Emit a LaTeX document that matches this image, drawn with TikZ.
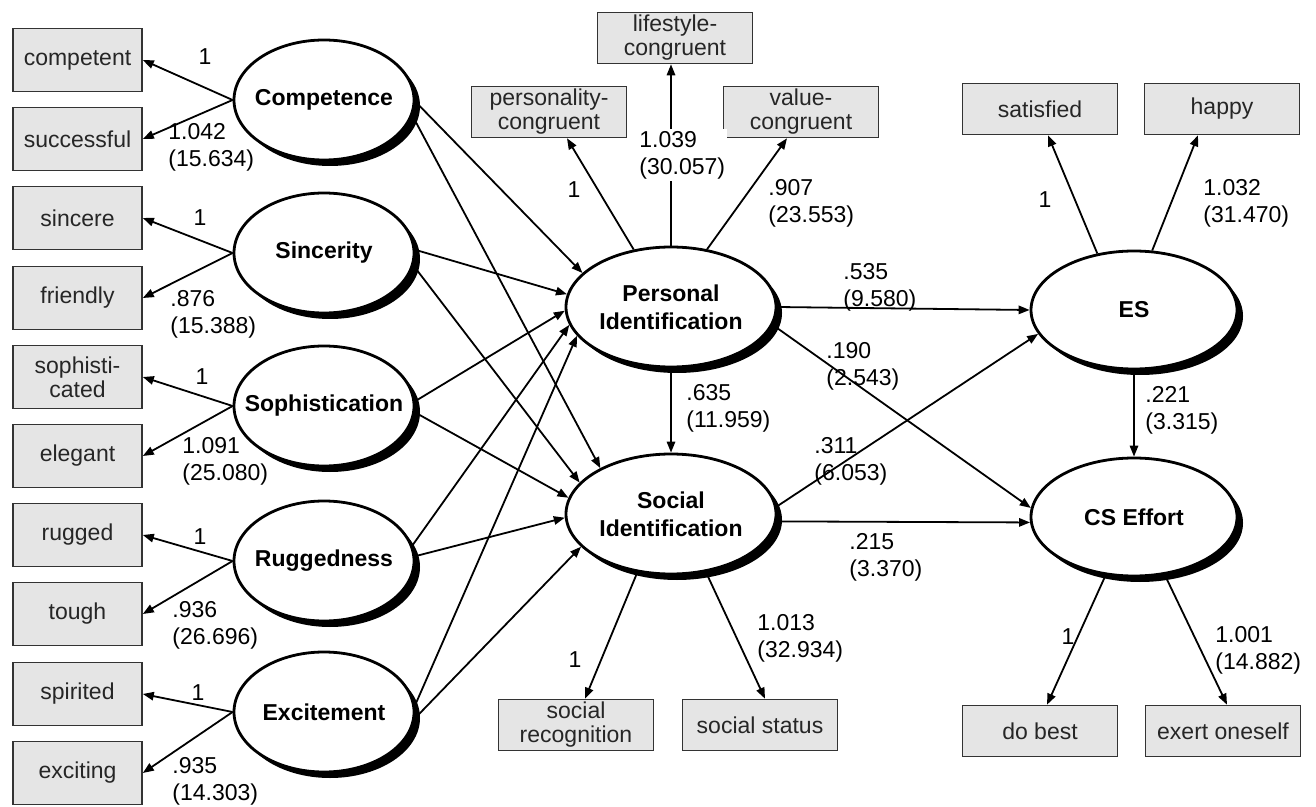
\documentclass[tikz,border=0pt]{standalone}
\usepackage{fontspec}
\setmainfont{Liberation Sans}
\usetikzlibrary{arrows.meta,shapes.geometric,shadows}

\tikzset{
  ind/.style={draw=black!80, line width=0.8pt, fill=black!10, text=black!85,
    font=\fontsize{11.5}{12}\selectfont, align=center, inner sep=0pt},
  lbox/.style={ind, minimum width=64.5pt, minimum height=31.5pt},
  wbox/.style={ind, minimum width=77.5pt, minimum height=25.5pt},
  latent/.style={ellipse, draw, line width=1.4pt, fill=white, inner sep=0pt,
    drop shadow={shadow xshift=3pt, shadow yshift=-3pt, fill=black, opacity=1}},
  smallvar/.style={latent, minimum width=90pt, minimum height=60pt},
  bigvar/.style={latent, minimum width=105pt, minimum height=60pt},
  outvar/.style={latent, minimum width=103pt, minimum height=59pt},
  lname/.style={font=\fontsize{11.5}{14}\selectfont\bfseries, align=center, inner sep=0pt},
  arr/.style={line width=0.9pt, -{Triangle[length=5.5pt,width=4.2pt]}},
  coef/.style={font=\fontsize{11.5}{13.5}\selectfont, align=left, inner sep=0pt, anchor=west},
  one/.style={font=\fontsize{11.5}{13.5}\selectfont, inner sep=0pt},
}

\begin{document}
\begin{tikzpicture}[x=0.5pt, y=-0.5pt]
\useasboundingbox (0,0) rectangle (1316,807);

% brand personality indicators
\node[lbox] (competent)  at (77.5,60)  {competent};
\node[lbox] (successful) at (77.5,139) {successful};
\node[lbox] (sincere)    at (77.5,218) {sincere};
\node[lbox] (friendly)   at (77.5,298) {friendly};
\node[lbox] (sophist)    at (77.5,377) {sophisti-\\cated};
\node[lbox] (elegant)    at (77.5,456) {elegant};
\node[lbox] (rugged)     at (77.5,535) {rugged};
\node[lbox] (tough)      at (77.5,614) {tough};
\node[lbox] (spirited)   at (77.5,694) {spirited};
\node[lbox] (exciting)   at (77.5,773) {exciting};

% brand personality factors
\node[smallvar, label={[lname]center:Competence}]     (comp) at (324,100) {};
\node[smallvar, label={[lname]center:Sincerity}]      (sinc) at (324,253) {};
\node[smallvar, label={[lname]center:Sophistication}] (soph) at (324,406) {};
\node[smallvar, label={[lname]center:Ruggedness}]     (rugg) at (324,561) {};
\node[smallvar, label={[lname]center:Excitement}]     (exci) at (324,712) {};

% identification
\node[bigvar, label={[lname]center:Personal\\Identification}] (pi) at (671,307) {};
\node[bigvar, label={[lname]center:Social\\Identification}]   (si) at (671,514) {};

% outcomes
\node[outvar, label={[lname]center:ES}]        (es) at (1134,310) {};
\node[outvar, label={[lname]center:CS Effort}] (cs) at (1134,517) {};

% identification indicators
\node[wbox] (pc) at (549,112) {personality-\\congruent};
\node[wbox] (lc) at (675,38)  {lifestyle-\\congruent};
\node[wbox] (vc) at (801,112) {value-\\congruent};
\node[wbox] (sr) at (576,725) {social\\recognition};
\node[wbox] (ss) at (760,725) {social status};

% outcome indicators
\node[wbox] (sat) at (1040,109) {satisfied};
\node[wbox] (hap) at (1222,109) {happy};
\node[wbox] (db)  at (1040,731) {do best};
\node[wbox] (eo)  at (1223,731) {exert oneself};

% factor loadings, left
\draw[arr] (comp.west) -- (competent.east);
\draw[arr] (comp.west) -- (successful.east);
\draw[arr] (sinc.west) -- (sincere.east);
\draw[arr] (sinc.west) -- (friendly.east);
\draw[arr] (soph.west) -- (sophist.east);
\draw[arr] (soph.west) -- (elegant.east);
\draw[arr] (rugg.west) -- (rugged.east);
\draw[arr] (rugg.west) -- (tough.east);
\draw[arr] (exci.west) -- (spirited.east);
\draw[arr] (exci.west) -- (exciting.east);

\node[one] (lcomp1) at (205,57) {1};
\node[coef] (lcomp2) at (168,147) {1.042\\(15.634)};
\node[one] (lsinc1) at (200,218) {1};
\node[coef] (lsinc2) at (170,314) {.876\\(15.388)};
\node[one] (lsoph1) at (202,377) {1};
\node[coef] (lsoph2) at (182,461) {1.091\\(25.080)};
\node[one] (lrugg1) at (200,537) {1};
\node[coef] (lrugg2) at (172,625) {.936\\(26.696)};
\node[one] (lexci1) at (198,693) {1};
\node[coef] (lexci2) at (172,781) {.935\\(14.303)};

% personality factors to identification
\draw[arr] (comp.-1)  -- (pi.159);
\draw[arr] (comp.-10) -- (si.147);
\draw[arr] (sinc.2)   -- (pi.173);
\draw[arr] (sinc.-8)  -- (si.161);
\draw[arr] (soph.3)   -- (pi.182);
\draw[arr] (soph.-4)  -- (si.171);
\draw[arr] (rugg.10)  -- (pi.190);
\draw[arr] (rugg.3)   -- (si.182);
\draw[arr] (exci.4)   -- (pi.197);
\draw[arr] (exci.-4)  -- (si.200);

% personal identification loadings
\draw[arr] (pi.123) -- ([xshift=9pt]pc.south);
\draw[arr] (pi.north) -- (pi.north |- lc.south);
\draw[arr] (pi.58) -- ([xshift=-7pt]vc.south);
\node[one] (lpi1) at (574,190) {1};
\node[coef, fill=white, inner sep=1pt] (lpi2) at (637,155) {1.039\\(30.057)};
\node[coef] (lpi3) at (768,203) {.907\\(23.553)};

% social identification loadings
\draw[arr] (si.240) -- ([xshift=4.5pt]sr.north);
\draw[arr] (si.301) -- ([xshift=2.5pt]ss.north);
\node[one] (lsi1) at (575,660) {1};
\node[coef] (lsi2) at (757,638) {1.013\\(32.934)};

% structural paths
\draw[arr] (pi.south) -- (si.north);
\node[coef] (lpisi) at (686,408) {.635\\(11.959)};
\draw[arr] (pi.east) -- (es.west);
\node[coef] (lpies) at (843,287) {.535\\(9.580)};
\draw[arr] (pi.-10) -- (cs.175);
\node[coef] (lpics) at (826,366) {.190\\(2.543)};
\draw[arr] (si.4) -- (es.194);
\node[coef] (lsies) at (814,461) {.311\\(6.053)};
\draw[arr] (si.-4) -- (cs.183);
\node[coef] (lsics) at (849,557) {.215\\(3.370)};
\draw[arr] (es.south) -- (cs.north);
\node[coef] (lescs) at (1145,410) {.221\\(3.315)};

% outcome loadings
\draw[arr] (es.123) -- ([xshift=4pt]sat.south);
\draw[arr] (es.73)  -- ([xshift=-12pt]hap.south);
\node[one] (les1) at (1045,200) {1};
\node[coef] (les2) at (1203,203) {1.032\\(31.470)};
\draw[arr] (cs.244) -- ([xshift=3.5pt]db.north);
\draw[arr] (cs.298) -- ([xshift=2pt]eo.north);
\node[one] (lcs1) at (1068,637) {1};
\node[coef] (lcs2) at (1215,650) {1.001\\(14.882)};
\end{tikzpicture}
\end{document}
